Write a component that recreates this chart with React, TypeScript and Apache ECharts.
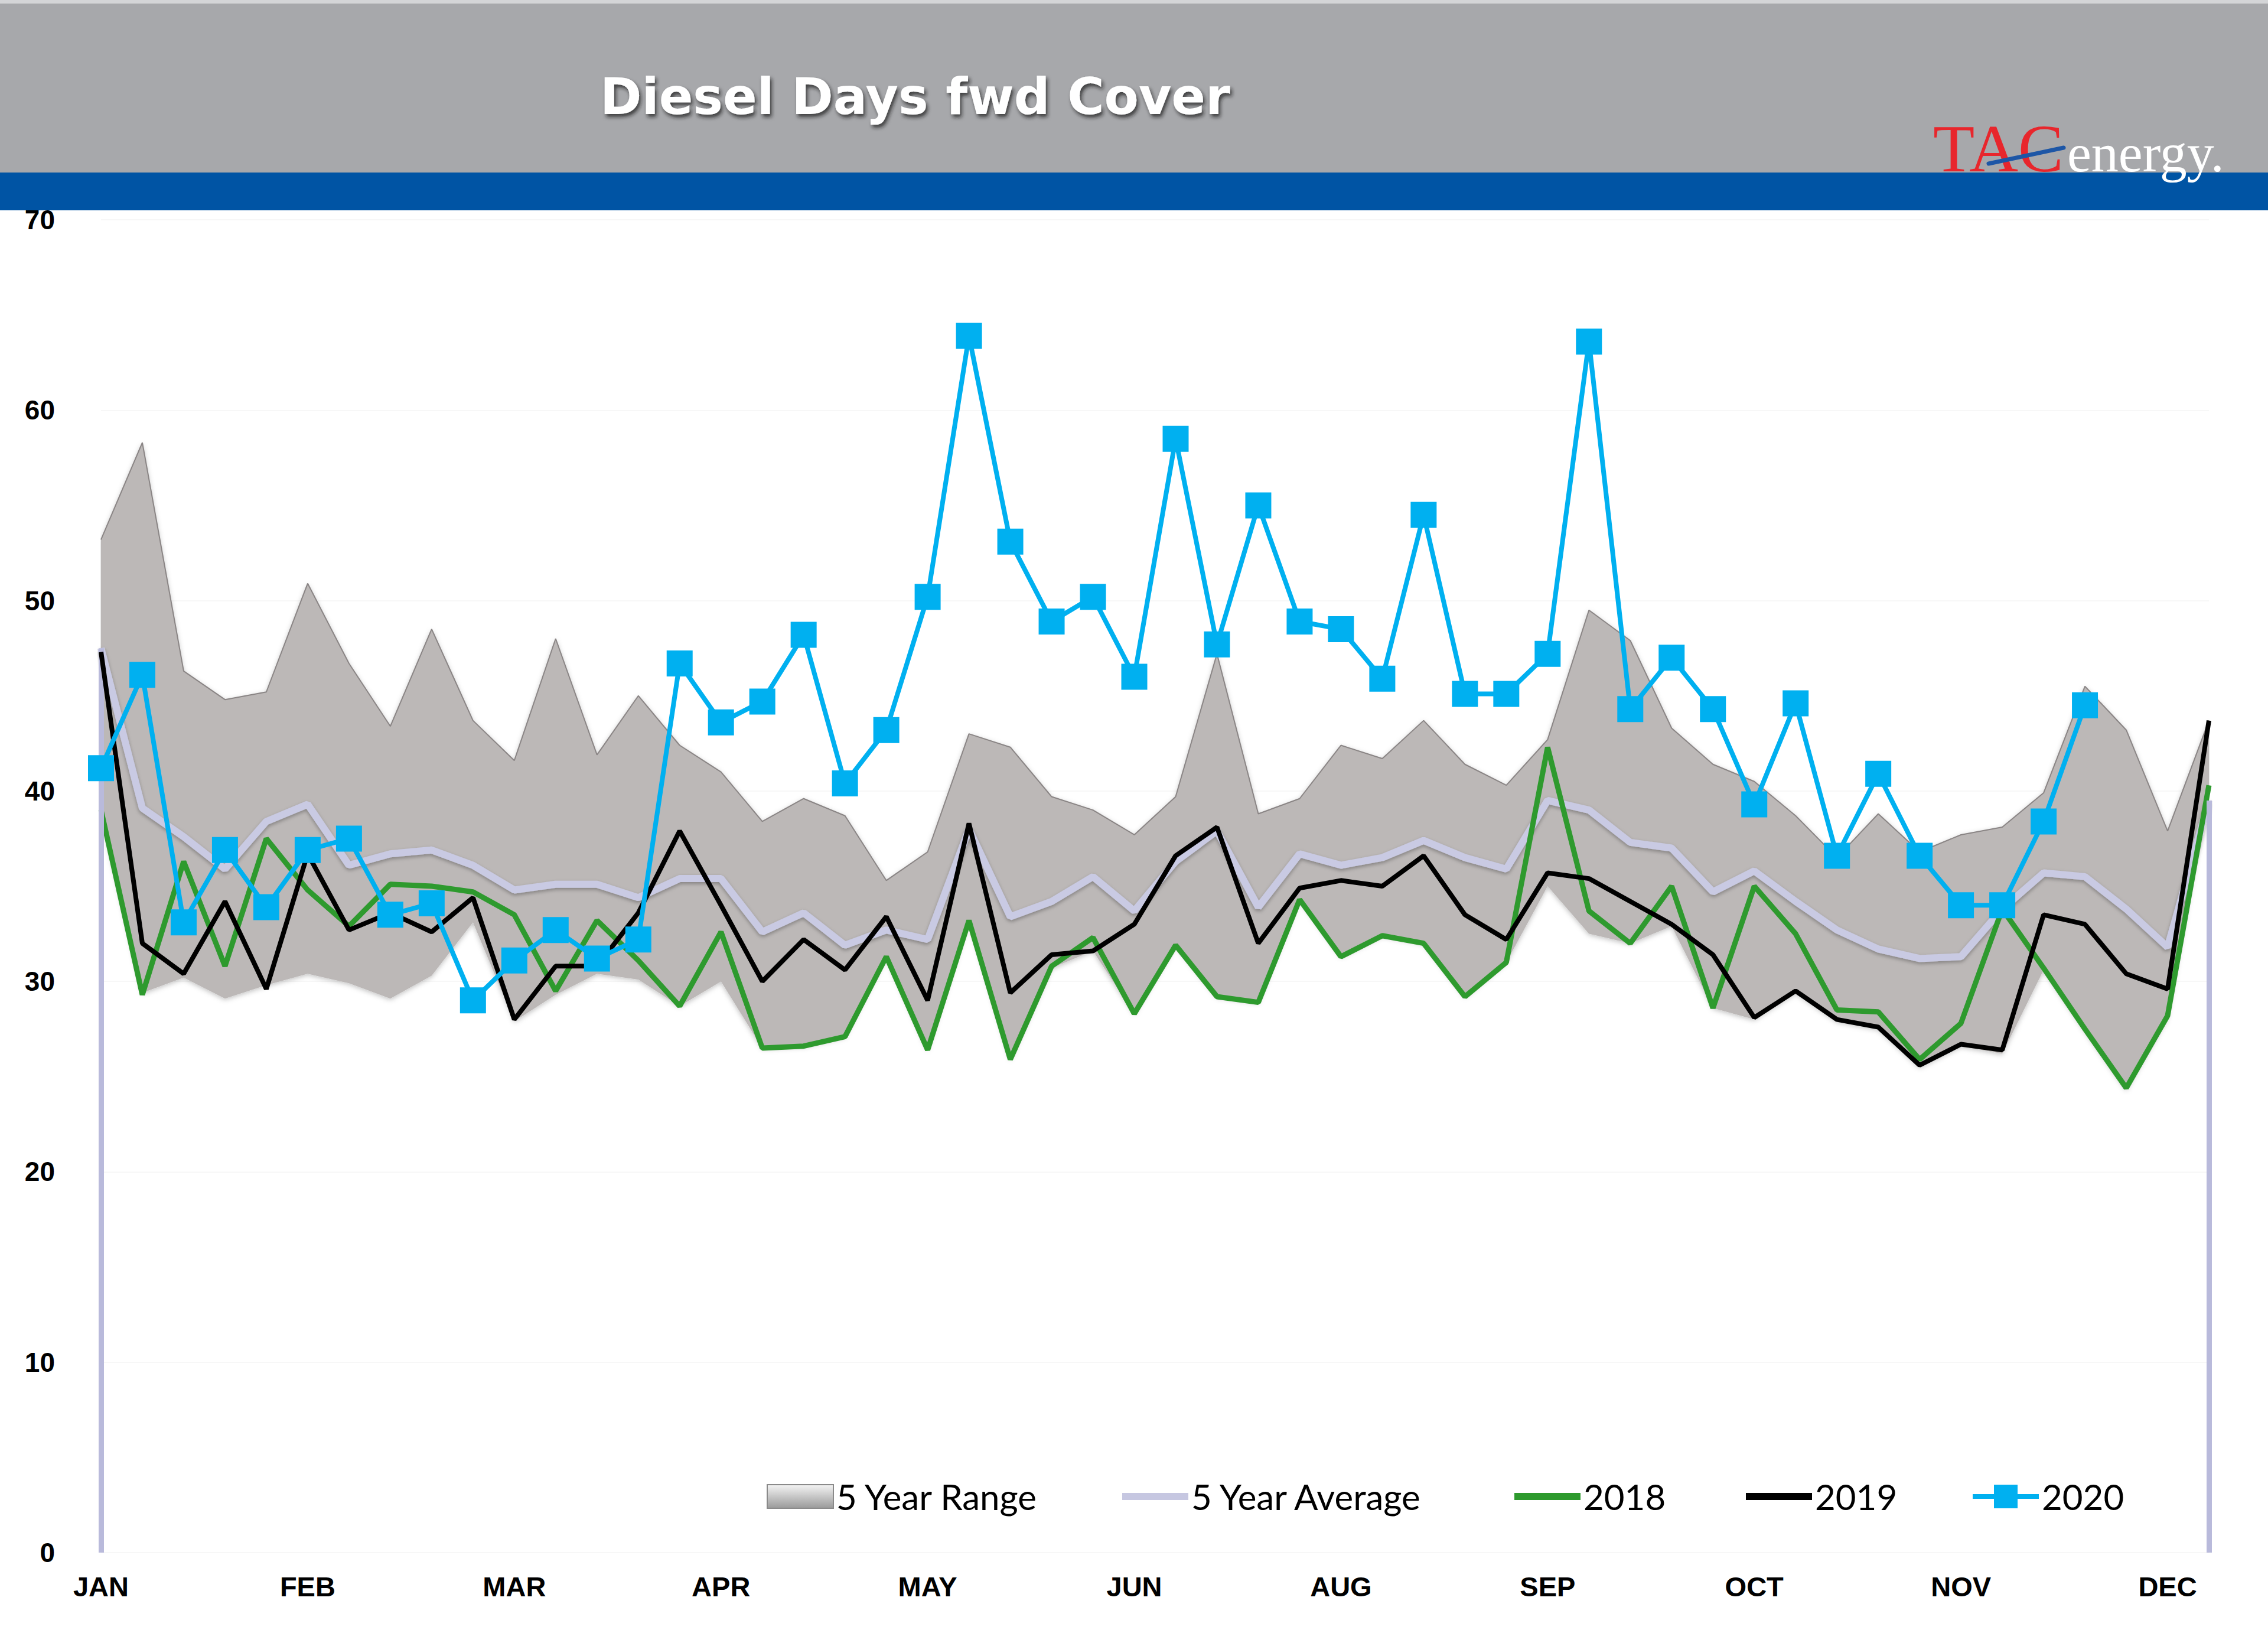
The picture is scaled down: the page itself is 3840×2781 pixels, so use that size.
import React, { useEffect, useRef } from "react";
import * as echarts from "echarts";

const weeks = Array.from({ length: 52 }, (_, i) => `W${i + 1}`);
const monthTicks = ["JAN", "FEB", "MAR", "APR", "MAY", "JUN", "AUG", "SEP", "OCT", "NOV", "DEC"];
const yTicks = [0, 10, 20, 30, 40, 50, 60, 70];

const rangeMax = [53.2, 58.3, 46.3, 44.8, 45.2, 50.9, 46.7, 43.4, 48.5, 43.7, 41.6, 48.0, 41.9, 45.0, 42.4, 41.0, 38.4, 39.6, 38.7, 35.3, 36.8, 43.0, 42.3, 39.7, 39.0, 37.7, 39.7, 47.2, 38.8, 39.6, 42.4, 41.7, 43.7, 41.4, 40.3, 42.7, 49.5, 47.9, 43.3, 41.4, 40.5, 38.7, 36.5, 38.8, 36.8, 37.7, 38.1, 39.9, 45.5, 43.2, 37.9, 43.7];
const rangeMin = [38.8, 29.4, 30.2, 29.1, 29.8, 30.4, 29.9, 29.1, 30.3, 33.1, 27.9, 29.3, 30.4, 30.1, 28.7, 30.0, 26.5, 26.6, 27.1, 31.3, 26.4, 33.2, 25.9, 30.7, 31.6, 28.3, 31.9, 29.2, 28.9, 34.3, 31.3, 32.4, 32.0, 29.2, 31.0, 35.0, 32.5, 32.0, 32.9, 28.6, 28.0, 29.4, 27.9, 27.5, 25.5, 26.6, 26.2, 30.6, 27.4, 24.3, 28.1, 40.2];
const avg5 = [47.5, 39.1, 37.6, 35.9, 38.4, 39.3, 36.1, 36.7, 36.9, 36.1, 34.8, 35.1, 35.1, 34.4, 35.4, 35.4, 32.6, 33.6, 31.9, 32.7, 32.2, 38.0, 33.4, 34.2, 35.5, 33.7, 36.3, 37.9, 33.9, 36.7, 36.1, 36.5, 37.4, 36.5, 35.9, 39.5, 39.0, 37.3, 37.0, 34.7, 35.8, 34.2, 32.7, 31.7, 31.2, 31.3, 33.8, 35.7, 35.5, 33.8, 31.8, 39.5];
const y2018 = [39.0, 29.3, 36.3, 30.8, 37.5, 34.8, 32.9, 35.1, 35.0, 34.7, 33.5, 29.5, 33.2, 31.1, 28.7, 32.6, 26.5, 26.6, 27.1, 31.3, 26.4, 33.2, 25.9, 30.8, 32.3, 28.3, 31.9, 29.2, 28.9, 34.3, 31.3, 32.4, 32.0, 29.2, 31.0, 42.3, 33.7, 32.0, 35.0, 28.6, 35.0, 32.5, 28.5, 28.4, 25.9, 27.8, 33.8, 30.7, 27.5, 24.4, 28.2, 40.3];
const y2019 = [47.3, 32.0, 30.4, 34.2, 29.6, 36.7, 32.7, 33.6, 32.6, 34.4, 28.0, 30.8, 30.8, 33.6, 37.9, 34.0, 30.0, 32.2, 30.6, 33.4, 29.0, 38.3, 29.4, 31.4, 31.6, 33.0, 36.6, 38.1, 32.0, 34.9, 35.3, 35.0, 36.6, 33.5, 32.2, 35.7, 35.4, 34.2, 33.0, 31.4, 28.1, 29.5, 28.0, 27.6, 25.6, 26.7, 26.4, 33.5, 33.0, 30.4, 29.6, 43.7];
const y2020 = [41.2, 46.1, 33.1, 36.9, 33.9, 36.9, 37.5, 33.5, 34.1, 29.0, 31.1, 32.7, 31.2, 32.2, 46.7, 43.6, 44.7, 48.2, 40.4, 43.2, 50.2, 63.9, 53.1, 48.9, 50.2, 46.0, 58.5, 47.7, 55.0, 48.9, 48.5, 45.9, 54.5, 45.1, 45.1, 47.2, 63.6, 44.3, 47.0, 44.3, 39.3, 44.6, 36.6, 40.9, 36.6, 34.0, 34.0, 38.4, 44.5, null, null, null];

const LINE_ICON = "path://M0,0M0,14L112,14L112,26L0,26ZM112,40";
const SQUARE_ICON = "path://M0,16L36,16L36,0L76,0L76,16L112,16L112,24L76,24L76,40L36,40L36,24L0,24Z";

export default function App() {
  const ref = useRef<HTMLDivElement>(null);
  useEffect(() => {
    document.body.style.margin = "0";
    const chart = echarts.init(ref.current!, null, { renderer: "svg" });
    const rangeSpan = rangeMax.map((v, i) => +(v - rangeMin[i]).toFixed(2));
    const legendBase = {
      top: 2503,
      padding: 0,
      itemWidth: 112,
      itemHeight: 40,
      selectedMode: false,
      textStyle: { fontSize: 60, fontFamily: "Lato", color: "#000" },
    };
    const option: any = {
      animation: false,
      backgroundColor: "#ffffff",
      title: {
        text: "Diesel Days fwd Cover",
        left: 1011,
        top: 116,
        textStyle: {
          color: "#ffffff",
          fontSize: 85,
          fontWeight: "bold",
          fontFamily: "DejaVu Sans",
          textShadowColor: "rgba(30,30,30,0.75)",
          textShadowBlur: 6,
          textShadowOffsetX: 3,
          textShadowOffsetY: 5,
        },
      },
      graphic: [
        { type: "rect", z: -10, shape: { x: 0, y: 0, width: 3840, height: 292 }, style: { fill: "#a7a8ab" } },
        { type: "rect", z: -9, shape: { x: 0, y: 0, width: 3840, height: 6 }, style: { fill: "#d4d5d7" } },
        { type: "rect", z: -9, shape: { x: 0, y: 292, width: 3840, height: 64 }, style: { fill: "#0054a4" } },
        {
          type: "text",
          z: 5,
          x: 3273,
          y: 251,
          style: { text: "TAC", fill: "#e8262c", font: "115px 'Liberation Serif'", verticalAlign: "middle", align: "left" },
        },
        {
          type: "text",
          z: 5,
          x: 3500,
          y: 259,
          style: { text: "energy.", fill: "#ffffff", font: "92px 'Liberation Serif'", verticalAlign: "middle", align: "left" },
        },
        {
          type: "line",
          z: 6,
          shape: { x1: 3367, y1: 277, x2: 3494, y2: 250 },
          style: { stroke: "#1d56a6", lineWidth: 7, lineCap: "round" },
        },
      ],
      legend: [
        {
          ...legendBase,
          left: 1298,
          data: [
            {
              name: "5 Year Range",
              icon: "rect",
              itemStyle: {
                color: new echarts.graphic.LinearGradient(0, 0, 0, 1, [
                  { offset: 0, color: "#f4f4f4" },
                  { offset: 1, color: "#9a9a9a" },
                ]),
                borderColor: "#8a8a8a",
                borderWidth: 2,
              },
            },
          ],
        },
        {
          ...legendBase,
          left: 1900,
          data: [{ name: "5 Year Average", icon: LINE_ICON, itemStyle: { color: "#c6c7e1" } }],
        },
        {
          ...legendBase,
          left: 2564,
          data: [{ name: "2018", icon: LINE_ICON, itemStyle: { color: "#2e9a2e" } }],
        },
        {
          ...legendBase,
          left: 2956,
          data: [{ name: "2019", icon: LINE_ICON, itemStyle: { color: "#000000" } }],
        },
        {
          ...legendBase,
          left: 3340,
          data: [{ name: "2020", icon: SQUARE_ICON, itemStyle: { color: "#00b0f0" } }],
        },
      ],
      grid: { left: 171, right: 100, top: 372, bottom: 153, containLabel: false },
      xAxis: {
        type: "category",
        data: weeks,
        boundaryGap: false,
        axisTick: { show: false },
        axisLine: {
          show: true,
          lineStyle: { color: "#bdbdbd", width: 8, shadowColor: "rgba(0,0,0,0.3)", shadowBlur: 10 },
        },
        axisLabel: {
          interval: 4,
          margin: 34,
          fontSize: 47,
          fontWeight: "bold",
          fontFamily: "Liberation Sans",
          color: "#000",
          formatter: (_v: string, idx: number) => monthTicks[idx / 5] ?? "",
        },
      },
      yAxis: {
        type: "value",
        min: yTicks[0],
        max: yTicks[yTicks.length - 1],
        interval: 10,
        axisLine: { show: false },
        axisTick: { show: false },
        splitLine: { show: true, lineStyle: { color: "#f7f7f7", width: 2 } },
        axisLabel: {
          margin: 78,
          fontSize: 46,
          fontWeight: "bold",
          fontFamily: "Liberation Sans",
          color: "#000",
        },
      },
      series: [
        {
          name: "rangeBase",
          type: "line",
          stack: "range",
          data: rangeMin,
          symbol: "none",
          silent: true,
          lineStyle: { opacity: 0 },
          z: 1,
        },
        {
          name: "5 Year Range",
          type: "line",
          stack: "range",
          data: rangeSpan,
          symbol: "none",
          silent: true,
          itemStyle: { color: "#bcb8b8" },
          lineStyle: { color: "#8a8585", width: 2 },
          areaStyle: { color: "#bcb8b7", opacity: 1, shadowColor: "rgba(0,0,0,0.25)", shadowBlur: 8, shadowOffsetY: 2 },
          z: 2,
        },
        {
          name: "5 Year Average",
          type: "line",
          data: avg5,
          symbol: "none",
          itemStyle: { color: "#c6c7e1" },
          lineStyle: { color: "#c9cae3", width: 12, shadowColor: "rgba(0,0,0,0.3)", shadowBlur: 6, shadowOffsetY: 3 },
          markLine: {
            silent: true,
            symbol: ["none", "none"],
            label: { show: false },
            lineStyle: { color: "#b9badb", width: 9, type: "solid" },
            data: [
              [{ coord: [weeks[0], 0] }, { coord: [weeks[0], avg5[0]] }],
              [{ coord: [weeks[51], 0] }, { coord: [weeks[51], avg5[51]] }],
            ],
          },
          z: 3,
        },
        {
          name: "2018",
          type: "line",
          data: y2018,
          symbol: "none",
          itemStyle: { color: "#2e9a2e" },
          lineStyle: { color: "#2e9a2e", width: 9 },
          z: 4,
        },
        {
          name: "2019",
          type: "line",
          data: y2019,
          symbol: "none",
          itemStyle: { color: "#000000" },
          lineStyle: { color: "#000000", width: 8 },
          z: 5,
        },
        {
          name: "2020",
          type: "line",
          data: y2020,
          symbol: "rect",
          symbolSize: 44,
          itemStyle: { color: "#00b0f0" },
          lineStyle: { color: "#00b0f0", width: 8 },
          z: 6,
        },
      ],
    };
    chart.setOption(option);
    return () => chart.dispose();
  }, []);
  return <div ref={ref} style={{ width: 3840, height: 2781 }} />;
}
